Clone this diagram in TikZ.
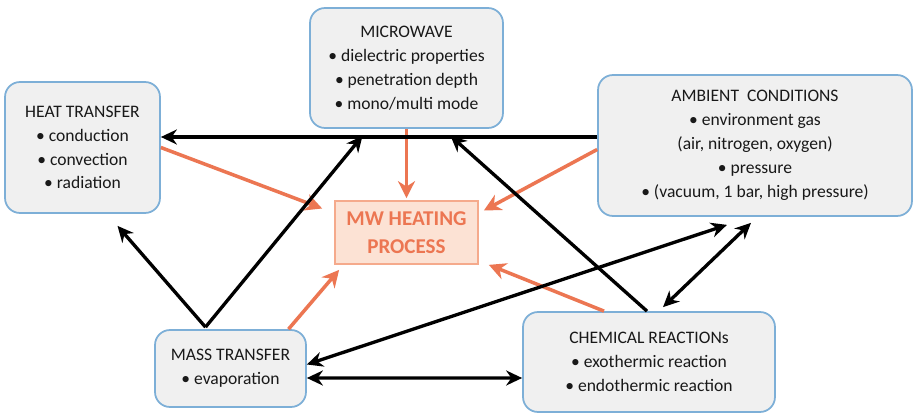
\documentclass[tikz,border=0pt]{standalone}
\usepackage{fontspec}
\setmainfont{Carlito}
\usetikzlibrary{arrows.meta,calc}
\definecolor{boxline}{RGB}{125,175,215}
\definecolor{boxfill}{RGB}{240,240,240}
\definecolor{mwline}{RGB}{245,170,140}
\definecolor{mwfill}{RGB}{252,226,212}
\definecolor{mwtext}{RGB}{236,118,82}
\definecolor{txt}{RGB}{25,25,25}
\tikzset{
  factor/.style={draw=boxline,fill=boxfill,line width=1pt,rounded corners=0.3cm,
    align=center,text=txt,font=\fontsize{10}{13.6}\selectfont,inner sep=0pt},
  process/.style={draw=mwline,fill=mwfill,line width=1pt,align=center,
    text=mwtext,font=\fontsize{12}{16}\selectfont\bfseries,inner sep=0pt},
  blk/.style={line width=1.9pt,black,-{Stealth[length=0.32cm,width=0.3cm]}},
  blkboth/.style={line width=1.9pt,black,{Stealth[length=0.32cm,width=0.3cm]}-{Stealth[length=0.32cm,width=0.3cm]}},
  org/.style={line width=2pt,mwtext,-{Stealth[length=0.34cm,width=0.34cm]}}
}
\begin{document}
\begin{tikzpicture}[x=0.02cm,y=-0.02cm]
  \fill[white] (0,0) rectangle (913,415);
  \useasboundingbox (0,0) rectangle (913,415);
  % the factors
  \node[factor,minimum width=3.1cm,minimum height=2.62cm] (heat) at (82.5,147.5)
    {HEAT TRANSFER\\ \textbullet\ conduction\\ \textbullet\ convection\\ \textbullet\ radiation};
  \node[factor,minimum width=3.86cm,minimum height=2.4cm] (micro) at (406.5,68)
    {MICROWAVE\\ \textbullet\ dielectric properties\\ \textbullet\ penetration depth\\ \textbullet\ mono/multi mode};
  \node[factor,minimum width=6.28cm,minimum height=2.82cm] (ambient) at (755,145.5)
    {AMBIENT\ \ CONDITIONS\\ \textbullet\ environment gas\\ (air, nitrogen, oxygen)\\ \textbullet\ pressure\\ \textbullet\ (vacuum, 1 bar, high pressure)};
  \node[factor,minimum width=3.02cm,minimum height=1.54cm] (mass) at (230.5,368.5)
    {MASS TRANSFER\\ \textbullet\ evaporation};
  \node[factor,minimum width=5.04cm,minimum height=2.0cm] (chem) at (649,362)
    {CHEMICAL REACTIONs\\ \textbullet\ exothermic reaction\\ \textbullet\ endothermic reaction};
  \node[process,minimum width=2.86cm,minimum height=1.26cm] (mw) at (406.5,232.5)
    {MW HEATING\\ PROCESS};
  % orange arrows into the process
  \draw[org] (micro.south) -- ($(mw.north)+(0,-2)$);
  \draw[org] (heat.east) -- ($(mw.west)+(-12,-24)$);
  \draw[org] ($(ambient.west)+(0,4)$) -- ($(mw.east)+(5,-22)$);
  \draw[org] ($(mass.north)+(58,0)$) -- ($(mw.south west)+(5,5)$);
  \draw[org] ($(chem.north)+(-45,0)$) -- ($(mw.south east)+(10,0)$);
  % black arrows between the factors
  \draw[blk] ($(ambient.west)+(0,-8.5)$) -- ($(heat.east)+(0,-10.5)$);
  \draw[blk] ($(mass.north)+(-25,-2)$) -- ($(heat.south)+(35,12)$);
  \draw[blk] ($(mass.north)+(-25,-2)$) -- ($(micro.south)+(-44,7)$);
  \draw[blk] ($(chem.north)+(-2,0)$) -- ($(micro.south)+(44,7)$);
  \draw[blkboth] ($(mass.east)+(0,-4)$) -- ($(ambient.south)+(-28,8)$);
  \draw[blkboth] ($(chem.north)+(14,-4)$) -- ($(ambient.south)+(-4,6)$);
  \draw[blkboth] ($(mass.east)+(0,9.5)$) -- ($(chem.west)+(0,16)$);
\end{tikzpicture}
\end{document}
